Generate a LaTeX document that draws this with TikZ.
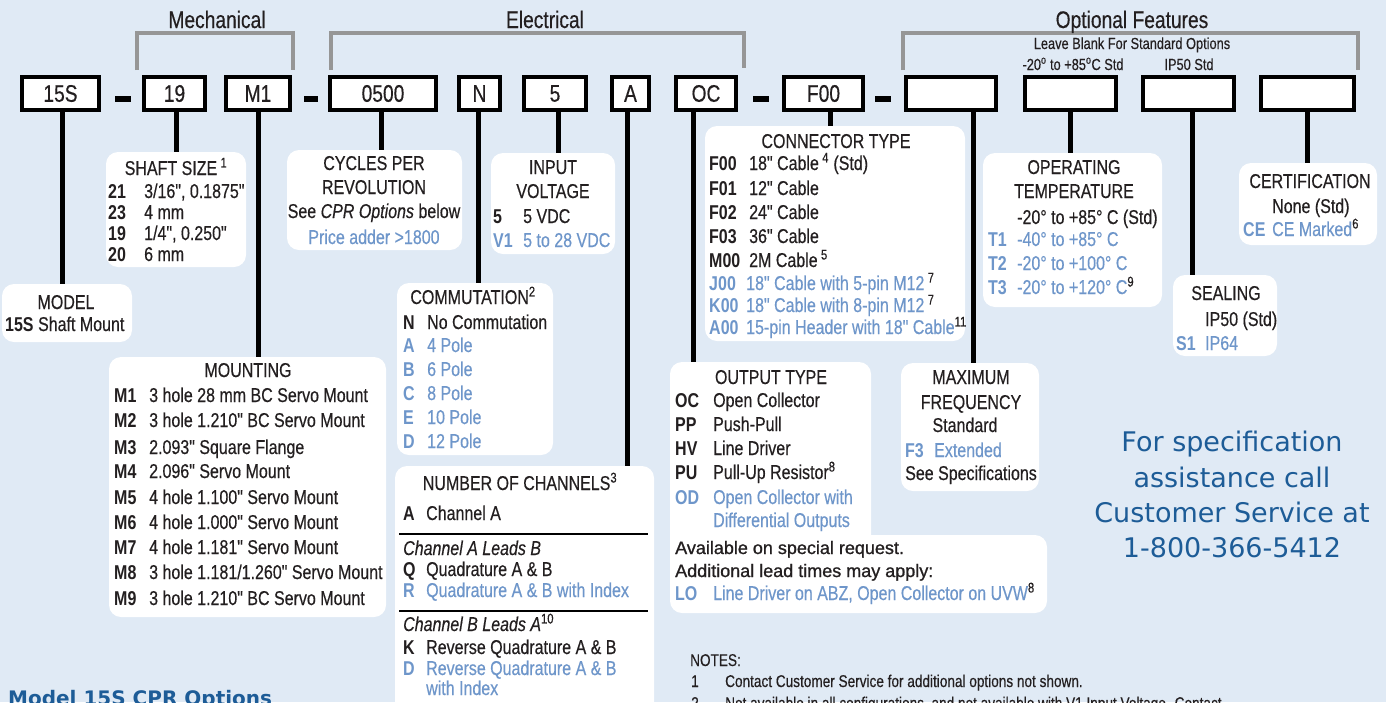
\documentclass[tikz,border=0pt]{standalone}
\usepackage{fontspec}
\setmainfont{Liberation Sans}[FakeStretch=0.8, Ligatures=TeXOff, UprightFeatures={FakeBold=0.4}, ItalicFeatures={FakeBold=0.4}]
\newfontfamily\widefont{Liberation Sans}[Ligatures=TeXOff, FakeBold=1]
\newfontfamily\callfont{DejaVu Sans}
\usetikzlibrary{fit}
\definecolor{pagebg}{RGB}{224,234,245}
\definecolor{txt}{RGB}{35,31,32}
\definecolor{optblue}{RGB}{110,150,202}
\definecolor{callblue}{RGB}{29,92,151}
\definecolor{brgray}{RGB}{150,150,150}
\newcommand\fnote[1]{\textsuperscript{\color{txt}#1}}
\newcommand\optrow[6][txt]{\node[row,text=#1] (#2) at (#3) {\makebox[#4][l]{\bfseries #5}#6};}

\begin{document}
\begin{tikzpicture}[x=1pt, y=-1pt,
		codebox/.style={draw=black, line width=4pt, fill=white, inner sep=0pt, minimum height=33pt, font=\fontsize{24}{28}\selectfont, text=txt},
		optbox/.style={fill=white, rounded corners=12pt, inner sep=0pt},
		row/.style={anchor=base west, inner sep=0pt, font=\fontsize{20}{24}\selectfont},
		boxtitle/.style={anchor=base, inner sep=0pt, font=\fontsize{20}{24}\selectfont, text=txt},
		grouplabel/.style={anchor=base, inner sep=0pt, font=\fontsize{24}{28}\selectfont, text=txt},
		smalltxt/.style={anchor=base, inner sep=0pt, font=\fontsize{16}{19}\selectfont, text=txt},
		calltxt/.style={anchor=base, inner sep=0pt, text=callblue, font=\callfont\fontsize{27}{32}\selectfont},
		lead/.style={line width=5pt, black},
		groupbracket/.style={line width=4pt, brgray},
		chanrule/.style={line width=1.5pt, black}]
			%%%%% START %%%%%
			
			\useasboundingbox (0, 0) rectangle (1386, 702);
			\clip (0, 0) rectangle (1386, 702);
			\fill[pagebg] (0, 0) rectangle (1386, 702);
			
			% groups over the code
			\draw[groupbracket] (137, 70) -- (137, 33) -- (293, 33) -- (293, 70);
			\draw[groupbracket] (331, 70) -- (331, 33) -- (744, 33) -- (744, 68);
			\draw[groupbracket] (903, 70) -- (903, 33) -- (1358, 33) -- (1358, 70);
			\node[grouplabel] (mechlbl) at (217, 28) {Mechanical};
			\node[grouplabel] (eleclbl) at (545, 28) {Electrical};
			\node[grouplabel] (optlbl) at (1132, 28) {Optional Features};
			\node[smalltxt] (blanklbl) at (1132, 49) {Leave Blank For Standard Options};
			\node[smalltxt] (templbl) at (1073, 70) {-20\textsuperscript{o} to +85\textsuperscript{o}C Std};
			\node[smalltxt] (seallbl) at (1189, 70) {IP50 Std};
			
			% code boxes
			\node[codebox, minimum width=77pt] (c15s) at (60.5, 93.5) {15S};
			\node[codebox, minimum width=61pt] (c19) at (174.5, 93.5) {19};
			\node[codebox, minimum width=64pt] (cm1) at (258, 93.5) {M1};
			\node[codebox, minimum width=106pt] (c0500) at (383, 93.5) {0500};
			\node[codebox, minimum width=41pt] (cn) at (479.5, 93.5) {N};
			\node[codebox, minimum width=62pt] (c5) at (555, 93.5) {5};
			\node[codebox, minimum width=37pt] (ca) at (630.5, 93.5) {A};
			\node[codebox, minimum width=60pt] (coc) at (706, 93.5) {OC};
			\node[codebox, minimum width=79pt] (cf00) at (823.5, 93.5) {F00};
			\node[codebox, minimum width=90pt] (cblank1) at (951, 93.5) {};
			\node[codebox, minimum width=91pt] (cblank2) at (1070.5, 93.5) {};
			\node[codebox, minimum width=91pt] (cblank3) at (1188.5, 93.5) {};
			\node[codebox, minimum width=93pt] (cblank4) at (1307.5, 93.5) {};
			
			\fill[black] (115, 96) rectangle (131, 102);
			\fill[black] (304, 96) rectangle (318, 102);
			\fill[black] (753, 96) rectangle (769, 102);
			\fill[black] (875, 96) rectangle (891, 102);
			
			% option boxes
			\node[optbox, fit={(106, 152) (246, 267)}] (shaft) {};
			\node[optbox, fit={(2, 284) (132, 342)}] (model) {};
			\node[optbox, fit={(287, 150) (462, 250)}] (cpr) {};
			\node[optbox, fit={(491, 153) (615, 254)}] (volt) {};
			\node[optbox, fit={(397, 283) (553, 455)}] (comm) {};
			\node[optbox, fit={(109, 357) (386, 617)}] (mount) {};
			\node[optbox, fit={(395, 466) (654, 730)}] (chan) {};
			\node[optbox, fit={(705, 126) (965, 341)}] (conn) {};
			\node[optbox, fit={(670, 362) (871, 600)}] (otype) {};
			\node[optbox, fit={(670, 535) (1047, 613)}] (special) {};
			\node[optbox, fit={(901, 363) (1039, 491)}] (maxf) {};
			\node[optbox, fit={(983, 153) (1162, 307)}] (temp) {};
			\node[optbox, fit={(1173, 275) (1277, 356)}] (seal) {};
			\node[optbox, fit={(1239, 163) (1377, 245)}] (cert) {};
			
			% leads
			\draw[lead] ([xshift=1.5pt]c15s.south) -- ([xshift=1.5pt]c15s.south |- model.north);
			\draw[lead] ([xshift=1.5pt]c19.south) -- ([xshift=1.5pt]c19.south |- shaft.north);
			\draw[lead] (cm1.south) -- (cm1.south |- mount.north);
			\draw[lead] ([xshift=-2pt]c0500.south) -- ([xshift=-2pt]c0500.south |- cpr.north);
			\draw[lead] ([xshift=-1.5pt]cn.south) -- ([xshift=-1.5pt]cn.south |- comm.north);
			\draw[lead] ([xshift=3pt]c5.south) -- ([xshift=3pt]c5.south |- volt.north);
			\draw[lead] ([xshift=-3.5pt]ca.south) -- ([xshift=-3.5pt]ca.south |- chan.north);
			\draw[lead] ([xshift=-13pt]coc.south) -- ([xshift=-13pt]coc.south |- otype.north);
			\draw[lead] ([xshift=6.5pt]cf00.south) -- ([xshift=6.5pt]cf00.south |- conn.north);
			\draw[lead] ([xshift=22pt]cblank1.south) -- ([xshift=22pt]cblank1.south |- maxf.north);
			\draw[lead] (cblank2.south) -- (cblank2.south |- temp.north);
			\draw[lead] ([xshift=3.5pt]cblank3.south) -- ([xshift=3.5pt]cblank3.south |- seal.north);
			\draw[lead] (cblank4.south) -- (cblank4.south |- cert.north);
			
			% shaft size
			\node[boxtitle] (shafttitle) at (176, 175) {SHAFT SIZE\,\fnote{1}};
			\optrow{s21}{108, 198}{36pt}{21}{3/16", 0.1875"}
			\optrow{s23}{108, 219}{36pt}{23}{4 mm}
			\optrow{s19}{108, 240}{36pt}{19}{1/4", 0.250"}
			\optrow{s20}{108, 261}{36pt}{20}{6 mm}
			
			% model
			\node[boxtitle] (modeltitle) at (66, 309) {MODEL};
			\node[row, text=txt] (m15s) at (5, 331) {\textbf{15S} Shaft Mount};
			
			% cycles per revolution
			\node[boxtitle] (cprtitle) at (374, 170) {CYCLES PER};
			\node[boxtitle] (cprtitleb) at (374, 194) {REVOLUTION};
			\node[boxtitle] (cprsee) at (374, 218) {See \textit{CPR Options} below};
			\node[boxtitle, text=optblue] (cpradder) at (374, 244) {Price adder >1800};
			
			% input voltage
			\node[boxtitle] (volttitle) at (553, 174) {INPUT};
			\node[boxtitle] (volttitleb) at (553, 198) {VOLTAGE};
			\optrow{v5}{493, 223}{30pt}{5}{5 VDC}
			\optrow[optblue]{v1}{493, 247}{30pt}{V1}{5 to 28 VDC}
			
			% commutation
			\node[boxtitle] (commtitle) at (473, 304) {COMMUTATION\fnote{2}};
			\optrow{pn}{403, 329}{24pt}{N}{No Commutation}
			\optrow[optblue]{pa}{403, 352}{24pt}{A}{4 Pole}
			\optrow[optblue]{pb}{403, 376}{24pt}{B}{6 Pole}
			\optrow[optblue]{pc}{403, 400}{24pt}{C}{8 Pole}
			\optrow[optblue]{pe}{403, 424}{24pt}{E}{10 Pole}
			\optrow[optblue]{pd}{403, 448}{24pt}{D}{12 Pole}
			
			% mounting
			\node[boxtitle] (mounttitle) at (248, 377) {MOUNTING};
			\optrow{mt1}{114, 402}{35pt}{M1}{3 hole 28 mm BC Servo Mount}
			\optrow{mt2}{114, 427}{35pt}{M2}{3 hole 1.210" BC Servo Mount}
			\optrow{mt3}{114, 454}{35pt}{M3}{2.093" Square Flange}
			\optrow{mt4}{114, 478}{35pt}{M4}{2.096" Servo Mount}
			\optrow{mt5}{114, 504}{35pt}{M5}{4 hole 1.100" Servo Mount}
			\optrow{mt6}{114, 529}{35pt}{M6}{4 hole 1.000" Servo Mount}
			\optrow{mt7}{114, 554}{35pt}{M7}{4 hole 1.181" Servo Mount}
			\optrow{mt8}{114, 579}{35pt}{M8}{3 hole 1.181/1.260" Servo Mount}
			\optrow{mt9}{114, 605}{35pt}{M9}{3 hole 1.210" BC Servo Mount}
			
			% number of channels
			\node[boxtitle] (chantitle) at (520, 490) {NUMBER OF CHANNELS\fnote{3}};
			\optrow{cha}{403, 520}{23pt}{A}{Channel A}
			\draw[chanrule] (399, 534) -- (648, 534);
			\node[row, text=txt] (leadab) at (403, 555) {\itshape Channel A Leads B};
			\optrow{chq}{403, 576}{23pt}{Q}{Quadrature A \& B}
			\optrow[optblue]{chr}{403, 597}{23pt}{R}{Quadrature A \& B with Index}
			\draw[chanrule] (399, 611) -- (648, 611);
			\node[row, text=txt] (leadba) at (403, 631) {\itshape Channel B Leads A\fnote{\upshape 10}};
			\optrow{chk}{403, 654}{23pt}{K}{Reverse Quadrature A \& B}
			\optrow[optblue]{chd}{403, 675}{23pt}{D}{Reverse Quadrature A \& B}
			\node[row, text=optblue] (chdb) at (426, 695) {with Index};
			
			% connector type
			\node[boxtitle] (conntitle) at (836, 148) {CONNECTOR TYPE};
			\optrow{f00}{709, 170}{40pt}{F00}{18" Cable\,\fnote{4} (Std)}
			\optrow{f01}{709, 195}{40pt}{F01}{12" Cable}
			\optrow{f02}{709, 219}{40pt}{F02}{24" Cable}
			\optrow{f03}{709, 243}{40pt}{F03}{36" Cable}
			\optrow{m00}{709, 267}{40pt}{M00}{2M Cable\,\fnote{5}}
			\optrow[optblue]{j00}{709, 290}{37pt}{J00}{18" Cable with 5-pin M12\,\fnote{7}}
			\optrow[optblue]{k00}{709, 312}{37pt}{K00}{18" Cable with 8-pin M12\,\fnote{7}}
			\optrow[optblue]{a00}{709, 334}{37pt}{A00}{15-pin Header with 18" Cable\fnote{11}}
			
			% output type
			\node[boxtitle] (otypetitle) at (771, 384) {OUTPUT TYPE};
			\optrow{ooc}{675, 407}{38pt}{OC}{Open Collector}
			\optrow{opp}{675, 431}{38pt}{PP}{Push-Pull}
			\optrow{ohv}{675, 455}{38pt}{HV}{Line Driver}
			\optrow{opu}{675, 479}{38pt}{PU}{Pull-Up Resistor\fnote{8}}
			\optrow[optblue]{ood}{675, 504}{38pt}{OD}{Open Collector with}
			\node[row, text=optblue] (oodb) at (713, 527) {Differential Outputs};
			\node[row, text=txt, font=\widefont\fontsize{18}{22}\selectfont] (avail) at (675, 554) {Available on special request.};
			\node[row, text=txt, font=\widefont\fontsize{18}{22}\selectfont] (leadtime) at (675, 577) {Additional lead times may apply:};
			\optrow[optblue]{olo}{675, 600}{38pt}{LO}{Line Driver on ABZ, Open Collector on UVW\fnote{8}}
			
			% maximum frequency
			\node[boxtitle] (maxftitle) at (971, 384) {MAXIMUM};
			\node[boxtitle] (maxftitleb) at (971, 409) {FREQUENCY};
			\node[boxtitle] (maxfstd) at (965, 432) {Standard};
			\optrow[optblue]{mf3}{905, 457}{29pt}{F3}{Extended}
			\node[row, text=txt] (maxfsee) at (905, 480) {See Specifications};
			
			% operating temperature
			\node[boxtitle] (temptitle) at (1074, 174) {OPERATING};
			\node[boxtitle] (temptitleb) at (1074, 198) {TEMPERATURE};
			\node[row, text=txt] (tempstd) at (1017, 224) {-20° to +85° C (Std)};
			\optrow[optblue]{t1}{988, 246}{29pt}{T1}{-40° to +85° C}
			\optrow[optblue]{t2}{988, 270}{29pt}{T2}{-20° to +100° C}
			\optrow[optblue]{t3}{988, 294}{29pt}{T3}{-20° to +120° C\fnote{9}}
			
			% sealing
			\node[boxtitle] (sealtitle) at (1226, 300) {SEALING};
			\node[row, text=txt] (sealstd) at (1205, 326) {IP50 (Std)};
			\optrow[optblue]{s1}{1176, 350}{29pt}{S1}{IP64}
			
			% certification
			\node[boxtitle] (certtitle) at (1310, 188) {CERTIFICATION};
			\node[row, text=txt] (certstd) at (1272, 213) {None (Std)};
			\optrow[optblue]{ce}{1243, 236}{29pt}{CE}{CE Marked\fnote{6}}
			
			% call box
			\node[calltxt] (call1) at (1232, 451) {For specification};
			\node[calltxt] (call2) at (1232, 487) {assistance call};
			\node[calltxt] (call3) at (1232, 522) {Customer Service at};
			\node[calltxt] (call4) at (1232, 557) {1-800-366-5412};
			
			% notes and table heading
			\node[row, text=callblue, font=\callfont\bfseries\fontsize{20}{24}\selectfont] (cprhead) at (8, 705) {Model 15S CPR Options};
			\node[row, text=txt, font=\fontsize{17}{20}\selectfont] (notes) at (690, 666) {NOTES:};
			\node[row, text=txt, font=\fontsize{17}{20}\selectfont] (note1n) at (691, 687) {1};
			\node[row, text=txt, font=\fontsize{17}{20}\selectfont] (note1) at (725, 687) {Contact Customer Service for additional options not shown.};
			\node[row, text=txt, font=\fontsize{17}{20}\selectfont] (note2n) at (691, 709) {2};
			\node[row, text=txt, font=\fontsize{17}{20}\selectfont] (note2) at (725, 709) {Not available in all configurations, and not available with V1 Input Voltage. Contact};
			
			%%%%% END %%%%%
		\end{tikzpicture}
\end{document}
